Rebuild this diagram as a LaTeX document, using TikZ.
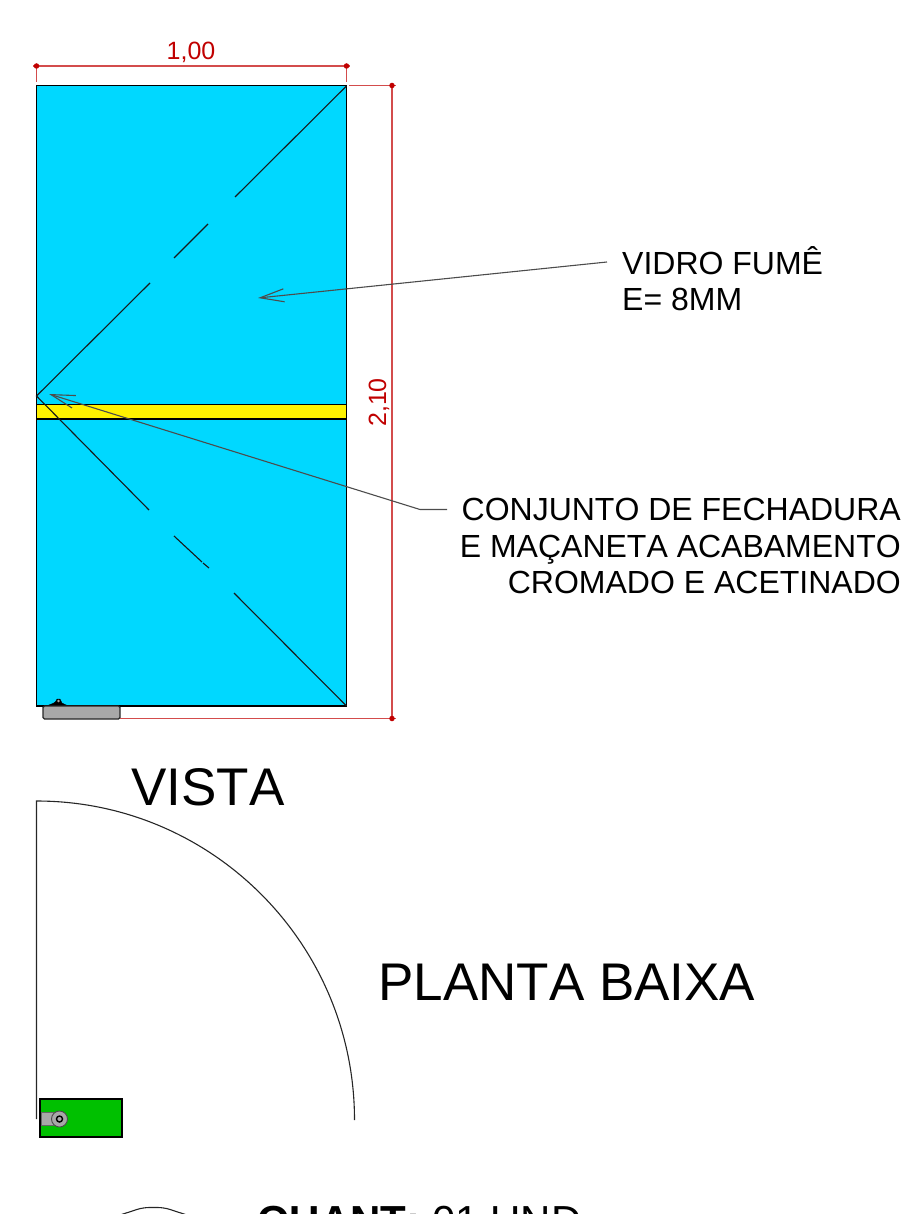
\documentclass[tikz,border=0pt]{standalone}
\usepackage{fontspec}
\setmainfont[Kerning=Off]{Liberation Sans}
\usetikzlibrary{arrows.meta}
\definecolor{glass}{HTML}{00D8FF}
\definecolor{dimred}{HTML}{C00000}
\definecolor{handle}{HTML}{A8A8A8}
\definecolor{leaf}{HTML}{00C000}
\tikzset{
  x=1pt,y=-1pt,
  door/.style={draw=black,line width=1.3pt,outer sep=0pt},
  diag/.style={draw=black!90,line width=1.1pt},
  dimline/.style={draw=dimred!70,line width=1.1pt},
  dimdot/.style={circle,fill=dimred,inner sep=0pt,minimum size=5.5pt},
  dimtext/.style={text=dimred,inner sep=0pt,font=\fontsize{25}{28}\selectfont},
  leader/.style={draw=black!70,line width=1.1pt},
  barb/.style={-{Straight Barb[length=24pt,width=13pt,line width=1.1pt]}},
  note/.style={inner sep=0pt,text=black,font=\fontsize{32}{36.5}\selectfont},
  bigtitle/.style={inner sep=0pt,text=black,font=\fontsize{53}{60}\selectfont},
}
\begin{document}
\begin{tikzpicture}
\useasboundingbox (0,0) rectangle (903,1214);
\clip (0,0) rectangle (903,1214);
% door
\node[door,fill=glass,minimum width=310pt,minimum height=620.5pt,inner sep=0pt,anchor=north west] (leafdoor) at (36.5,85.5) {};
\node[door,fill=yellow,minimum width=310pt,minimum height=14.5pt,inner sep=0pt,anchor=north west] (band) at (36.5,404.5) {};
% opening diagonals
\coordinate (apex) at (36.5,396);
\coordinate (topR) at (346.5,86);
\coordinate (botR) at (346.5,706);
\draw[diag] (topR) -- (235,197);
\draw[diag] (208,224) -- (174,258);
\draw[diag] (150,283) -- (apex) -- (149,510);
\draw[diag] (174,536) -- (202,562);
\draw[diag] (203,563) -- (209,568);
\draw[diag] (234,593) -- (botR);
% handle in elevation
\draw[draw=black,fill=black] (46,706) .. controls (52,704) and (55,703) .. (56,701) -- (57,699) -- (60,699) -- (62,703) .. controls (64,705) and (67,705) .. (70,706) -- cycle;
\fill[handle] (58.5,701) circle (1.3pt);
\draw[draw=black!85,fill=handle,line width=1.4pt,rounded corners=1.5pt] (43,706) -- (43,719) -- (120,719) -- (120,706) -- cycle;
% dimensions
\coordinate (dTL) at (36.5,66);
\coordinate (dTR) at (346.5,66);
\coordinate (dRT) at (392,85.5);
\coordinate (dRB) at (392,718.5);
\draw[dimline] (33,66) -- (350,66);
\draw[dimline] (dTL) -- (36.5,82);
\draw[dimline] (dTR) -- (346.5,82);
\draw[dimline] (349,85.5) -- (396,85.5);
\draw[dimline] (120,718.5) -- (396,718.5);
\draw[dimline] (dRT) -- (dRB);
\node[dimdot] at (dTL) {};
\node[dimdot] at (dTR) {};
\node[dimdot] at (dRT) {};
\node[dimdot] at (dRB) {};
\node[dimtext,anchor=base] (dimw) at (191,60) {1,00};
\node[dimtext,anchor=base,rotate=90] (dimh) at (386,402.5) {2,10};
% notes
\node[note,anchor=base west] (vidro) at (622,275) {VIDRO FUMÊ};
\node[note,anchor=base west] (vidrob) at (622,310) {E= 8MM};
\node[note,anchor=base east] (conj1) at (901,520) {CONJUNTO DE FECHADURA};
\node[note,anchor=base east] (conj2) at (901,557) {E MAÇANETA ACABAMENTO};
\node[note,anchor=base east] (conj3) at (901,593) {CROMADO E ACETINADO};
\coordinate (vidroTail) at (607,262);
\coordinate (vidroTip) at (258,298);
\coordinate (conjTail) at (447,509.5);
\coordinate (conjElbow) at (420,509.5);
\coordinate (conjTip) at (49,394);
\draw[leader,barb] (vidroTail) -- (vidroTip);
\draw[leader,barb] (conjTail) -- (conjElbow) -- (conjTip);
% titles
\node[bigtitle,anchor=base west] (vista) at (131,805) {VISTA};
\node[bigtitle,anchor=base west] (planta) at (378,1000) {PLANTA BAIXA};
% plan
\draw[draw=black!85,line width=1.1pt] (36.5,1119) -- (36.5,801) arc[start angle=90,end angle=0,x radius=318pt,y radius=319pt];
\node[draw=black,fill=leaf,line width=1.8pt,outer sep=0pt,minimum width=82pt,minimum height=38pt,inner sep=0pt,anchor=north west] (leafplan) at (40,1099) {};
\draw[draw=black!60,fill=handle,line width=0.6pt] (41,1112.5) rectangle (54,1125.5);
\node[circle,draw=black!70,fill=handle,line width=0.9pt,minimum size=16pt,inner sep=0pt] (knob) at (59.5,1119) {};
\node[circle,draw=black,fill=handle,line width=1.4pt,minimum size=6pt,inner sep=0pt] at (knob) {};
% clipped footer
\draw[draw=black!85,line width=1.1pt,rounded corners=6pt] (117,1216) -- (143,1207.5) -- (164,1207.5) -- (190,1216);
\node[inner sep=0pt,anchor=base west,font=\fontsize{42}{48}\selectfont] (quant) at (257,1235) {\textbf{QUANT:} 01 UND};
\end{tikzpicture}
\end{document}
